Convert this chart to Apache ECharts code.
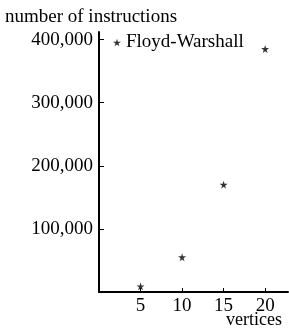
<!DOCTYPE html>
<html>
<head>
<meta charset="utf-8">
<script src="https://cdn.jsdelivr.net/npm/echarts@6/dist/echarts.min.js"></script>
<style>
  html, body { margin: 0; padding: 0; background: #fff; }
  #myChart { width: 289px; height: 329px; }
</style>
</head>
<body>
<div id="myChart"></div>
<script>
  // data
  const vertices = [5, 10, 15, 20];
  const floydWarshall = [9000, 55000, 170000, 385000];
  const yTicks = [100000, 200000, 300000, 400000];
  const xTicks = [5, 10, 15, 20];

  const star = 'path://M50,0 L61,35 L98,35 L68,57 L79,91 L50,70 L21,91 L32,57 L2,35 L39,35 Z';
  const font = 'Liberation Serif';

  let myChart = echarts.init(document.getElementById('myChart'));
  myChart.setOption({
    animation: false,
    textStyle: { fontFamily: font, color: '#000' },
    title: [
      { text: 'number of instructions', left: 0, top: 3,
        textStyle: { fontFamily: font, fontSize: 19, fontWeight: 'normal', color: '#000' } },
      { text: 'vertices', right: 2, top: 306,
        textStyle: { fontFamily: font, fontSize: 18, fontWeight: 'normal', color: '#000' } }
    ],
    legend: {
      left: 108, top: 28,
      itemWidth: 8, itemHeight: 8, itemGap: 6,
      textStyle: { fontFamily: font, fontSize: 19, color: '#000' },
      data: [{ name: 'Floyd-Warshall', icon: star }]
    },
    grid: { left: 99, top: 32, width: 189, height: 260 },
    xAxis: {
      type: 'value', min: 0, max: 22.75,
      splitLine: { show: false },
      axisLine: { lineStyle: { color: '#000', width: 2 } },
      axisTick: { inside: true, length: 4, customValues: xTicks, lineStyle: { color: '#000' } },
      axisLabel: { customValues: xTicks, fontFamily: font, fontSize: 19, color: '#000', margin: 5 }
    },
    yAxis: {
      type: 'value', min: 0, max: 412000,
      splitLine: { show: false },
      axisLine: { lineStyle: { color: '#000', width: 2 } },
      axisTick: { inside: true, length: 5, customValues: yTicks, lineStyle: { color: '#000' } },
      axisLabel: {
        customValues: yTicks, fontFamily: font, fontSize: 19, color: '#000', margin: 6,
        formatter: v => v.toLocaleString('en-US')
      }
    },
    series: [{
      name: 'Floyd-Warshall',
      type: 'scatter',
      symbol: star,
      symbolSize: 8,
      itemStyle: { color: '#000' },
      data: vertices.map((v, i) => [v, floydWarshall[i]])
    }]
  });
</script>
</body>
</html>
